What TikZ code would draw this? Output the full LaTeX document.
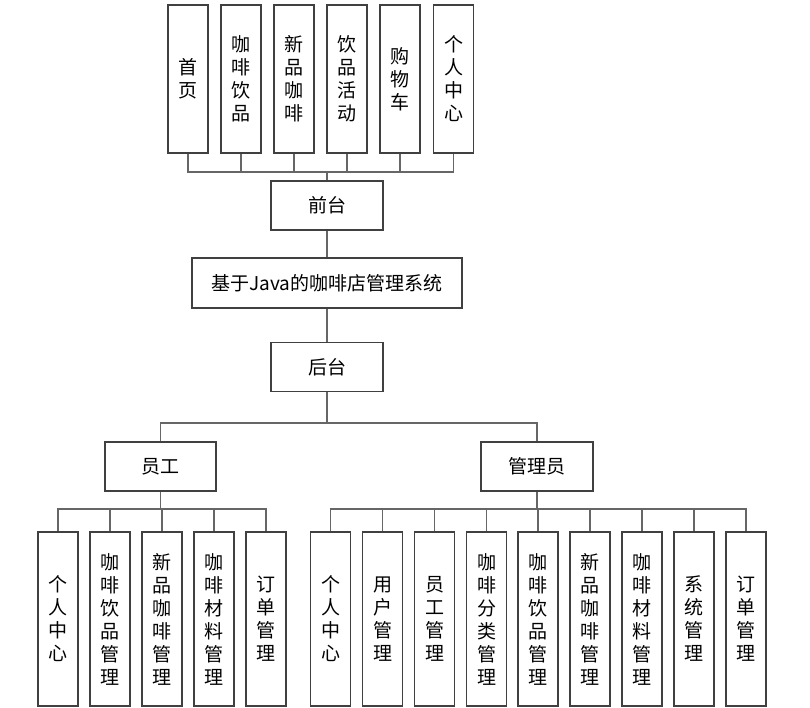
\documentclass[tikz,border=0pt]{standalone}
\usepackage{fontspec}
\setmainfont{Noto Sans CJK SC}
\tikzset{>=stealth}
\tikzset{box/.style={draw=black!75, line width=1.1pt, fill=white, align=center, inner sep=0pt, font=\fontsize{19}{23}\selectfont},
  hbox/.style={box, minimum width=112pt, minimum height=49pt},
  topbox/.style={box, minimum width=40pt, minimum height=148pt},
  lowbox/.style={box, minimum width=40pt, minimum height=174pt},
  link/.style={draw=black!60, line width=1.1pt}}

\begin{document}
\begin{tikzpicture}[x=1pt, y=-1pt]
    \useasboundingbox (0,0) rectangle (810,708);
    \node[hbox] (front) at (327,205.5) {前台};
    \node[box, minimum width=270pt, minimum height=50pt] (sys) at (327,283) {基于Java的咖啡店管理系统};
    \node[hbox] (back) at (327,367) {后台};
    \node[hbox, minimum width=111pt] (staff) at (160.5,466.5) {员工};
    \node[hbox] (admin) at (537,466.5) {管理员};
    \coordinate (fbus) at (327,172);
    \coordinate (sbus) at (160.5,509);
    \coordinate (abus) at (537,509);
    \foreach \i/\x/\t in {1/188/{首\\页}, 2/241/{咖\\啡\\饮\\品}, 3/294/{新\\品\\咖\\啡}, 4/347/{饮\\品\\活\\动}, 5/400/{购\\物\\车}, 6/453.5/{个\\人\\中\\心}}
    {
        \node[topbox] (f\i) at (\x,79) {\t};
        \draw[link] (f\i.south) |- (fbus);
    }
    \draw[link] (fbus) -- (front.north);
    \draw[link] (front) -- (sys);
    \draw[link] (sys) -- (back);
    \draw[link] (back.south) -- (327,423) coordinate (bbus);
    \draw[link] (staff.north) |- (bbus);
    \draw[link] (admin.north) |- (bbus);
    \foreach \i/\x/\t in {1/58/{个\\人\\中\\心}, 2/110/{咖\\啡\\饮\\品\\管\\理}, 3/162/{新\\品\\咖\\啡\\管\\理}, 4/214/{咖\\啡\\材\\料\\管\\理}, 5/266/{订\\单\\管\\理}}
    {
        \node[lowbox] (s\i) at (\x,619) {\t};
        \draw[link] (s\i.north) |- (sbus);
    }
    \draw[link] (staff.south) -- (sbus);
    \foreach \i/\x/\t in {1/330.5/{个\\人\\中\\心}, 2/382.5/{用\\户\\管\\理}, 3/434.5/{员\\工\\管\\理}, 4/486.5/{咖\\啡\\分\\类\\管\\理}, 5/538/{咖\\啡\\饮\\品\\管\\理}, 6/590/{新\\品\\咖\\啡\\管\\理}, 7/642/{咖\\啡\\材\\料\\管\\理}, 8/694/{系\\统\\管\\理}, 9/746/{订\\单\\管\\理}}
    {
        \node[lowbox] (a\i) at (\x,619) {\t};
        \draw[link] (a\i.north) |- (abus);
    }
    \draw[link] (admin.south) -- (abus);
\end{tikzpicture}
\end{document}
